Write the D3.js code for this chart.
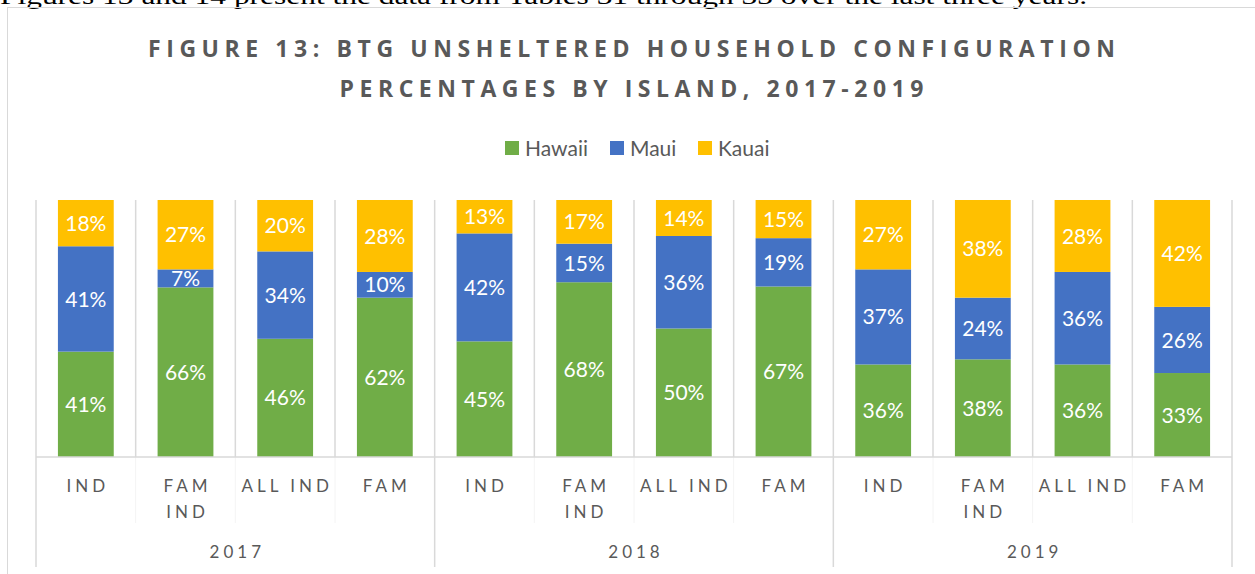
<!DOCTYPE html>
<html>
<head>
<meta charset="utf-8">
<script src="https://cdn.jsdelivr.net/npm/d3@7"></script>
<style>
  html, body { margin: 0; padding: 0; background: #fff; overflow: hidden; }
  svg { display: block; }
</style>
</head>
<body>
<svg id="chart" width="1255" height="574"></svg>
<script>
// categories, two-level axis
var years = ['2017', '2018', '2019'];
var configs = [['IND'], ['FAM', 'IND'], ['ALL IND'], ['FAM']];
var islands = ['Hawaii', 'Maui', 'Kauai'];
var islandColors = ['#70AD47', '#4472C4', '#FFC000'];

// percentages, one value per bar (2017 x4, 2018 x4, 2019 x4)
var hawaii = [41, 66, 46, 62, 45, 68, 50, 67, 36, 38, 36, 33];
var maui   = [41,  7, 34, 10, 42, 15, 36, 19, 37, 24, 36, 26];
var kauai  = [18, 27, 20, 28, 13, 17, 14, 15, 27, 38, 28, 42];

var textColor = '#595959';
var gridColor = '#d9d9d9';

var svg = d3.select('#chart');

// paragraph text cut off at the top of the page
svg.append('text')
  .attr('x', 0)
  .attr('y', 4)
  .attr('textLength', 1087)
  .attr('lengthAdjust', 'spacingAndGlyphs')
  .style('font-family', '"Liberation Serif", "Times New Roman", serif')
  .style('font-size', '24px')
  .style('fill', '#000')
  .text('Figures 13 and 14 present the data from Tables 31 through 33 over the last three years.');

// chart area border
svg.append('rect')
  .attr('x', 7.5)
  .attr('y', 7.5)
  .attr('width', 1300)
  .attr('height', 700)
  .attr('fill', 'none')
  .attr('stroke', gridColor)
  .attr('stroke-width', 1);

// title
var titleLines = [
  {text: 'FIGURE 13: BTG UNSHELTERED HOUSEHOLD CONFIGURATION', y: 57, len: 970},
  {text: 'PERCENTAGES BY ISLAND, 2017-2019', y: 97, len: 587}
];
svg.selectAll('.title')
  .data(titleLines)
  .enter().append('text')
  .attr('class', 'title')
  .attr('x', 633)
  .attr('y', function(d) { return d.y; })
  .attr('text-anchor', 'middle')
  .attr('textLength', function(d) { return d.len; })
  .attr('lengthAdjust', 'spacing')
  .style('font-family', '"Open Sans", Lato, sans-serif')
  .style('font-weight', 'bold')
  .style('font-size', '23px')
  .style('letter-spacing', '3px')
  .style('fill', textColor)
  .text(function(d) { return d.text; });

// legend
var legendX = [505, 610, 698];
var legend = svg.selectAll('.legend')
  .data(islands)
  .enter().append('g')
  .attr('class', 'legend')
  .attr('transform', function(d, i) { return 'translate(' + legendX[i] + ',141)'; });

legend.append('rect')
  .attr('width', 14)
  .attr('height', 14)
  .attr('fill', function(d, i) { return islandColors[i]; });

legend.append('text')
  .attr('x', 20)
  .attr('y', 14.5)
  .style('font-family', 'Lato, "Open Sans", sans-serif')
  .style('font-size', '21px')
  .style('fill', textColor)
  .text(function(d) { return d; });

// scales
var plotLeft = 36, plotRight = 1232, plotTop = 200, plotBottom = 457;

var rows = [];
years.forEach(function(yr, yi) {
  configs.forEach(function(c, ci) {
    var i = yi * configs.length + ci;
    rows.push({key: yr + '-' + ci, year: yr, label: c, Hawaii: hawaii[i], Maui: maui[i], Kauai: kauai[i]});
  });
});

var x = d3.scaleBand()
  .domain(rows.map(function(d) { return d.key; }))
  .range([plotLeft, plotRight])
  .padding(0);

var xYear = d3.scaleBand()
  .domain(years)
  .range([plotLeft, plotRight])
  .padding(0);

var y = d3.scaleLinear()
  .domain([0, 1])
  .range([plotBottom, plotTop]);

var barWidth = x.bandwidth() * 0.56;

// vertical gridlines between categories
var boundaries = rows.map(function(d) { return x(d.key); }).concat([plotRight]);
svg.append('g')
  .selectAll('line')
  .data(boundaries)
  .enter().append('line')
  .attr('x1', function(d) { return d; })
  .attr('x2', function(d) { return d; })
  .attr('y1', plotTop)
  .attr('y2', plotBottom)
  .attr('stroke', gridColor)
  .attr('stroke-width', 1.5);

// minor tick separators under the axis
svg.append('g')
  .selectAll('line')
  .data(boundaries.filter(function(d, i) { return i % configs.length !== 0; }))
  .enter().append('line')
  .attr('x1', function(d) { return d; })
  .attr('x2', function(d) { return d; })
  .attr('y1', plotBottom)
  .attr('y2', 523)
  .attr('stroke', '#f4f4f4')
  .attr('stroke-width', 1);

// year separators under the axis
var yearBounds = years.map(function(d) { return xYear(d); }).concat([plotRight]);
svg.append('g')
  .selectAll('line')
  .data(yearBounds)
  .enter().append('line')
  .attr('x1', function(d) { return d; })
  .attr('x2', function(d) { return d; })
  .attr('y1', plotBottom)
  .attr('y2', 567)
  .attr('stroke', gridColor)
  .attr('stroke-width', 1.5);

// stacked bars, normalised to 100%
var stack = d3.stack()
  .keys(islands)
  .offset(d3.stackOffsetExpand);
var series = stack(rows);

var layers = svg.append('g')
  .selectAll('g')
  .data(series)
  .enter().append('g')
  .attr('fill', function(d, i) { return islandColors[i]; });

layers.selectAll('rect')
  .data(function(d) { return d; })
  .enter().append('rect')
  .attr('x', function(d) { return x(d.data.key) + (x.bandwidth() - barWidth) / 2; })
  .attr('width', barWidth)
  .attr('y', function(d) { return y(d[1]); })
  .attr('height', function(d) { return y(d[0]) - y(d[1]); });

// data labels
svg.append('g')
  .selectAll('g')
  .data(series)
  .enter().append('g')
  .selectAll('text')
  .data(function(s) { return s.map(function(d) { return {d: d, key: s.key}; }); })
  .enter().append('text')
  .attr('x', function(o) { return x(o.d.data.key) + x.bandwidth() / 2; })
  .attr('y', function(o) { return (y(o.d[0]) + y(o.d[1])) / 2; })
  .attr('dy', '0.36em')
  .attr('text-anchor', 'middle')
  .style('font-family', 'Lato, "Open Sans", sans-serif')
  .style('font-size', '21px')
  .style('fill', '#fff')
  .text(function(o) { return o.d.data[o.key] + '%'; });

// axis line
svg.append('line')
  .attr('x1', plotLeft)
  .attr('x2', plotRight)
  .attr('y1', plotBottom)
  .attr('y2', plotBottom)
  .attr('stroke', gridColor)
  .attr('stroke-width', 1.5);

// category labels
var catLabels = svg.append('g')
  .selectAll('text')
  .data(rows)
  .enter().append('text')
  .attr('x', function(d) { return x(d.key) + x.bandwidth() / 2 + 2; })
  .attr('y', 492)
  .attr('text-anchor', 'middle')
  .style('font-family', 'Lato, "Open Sans", sans-serif')
  .style('font-size', '17px')
  .style('letter-spacing', '4px')
  .style('fill', textColor);

catLabels.selectAll('tspan')
  .data(function(d) { return d.label; })
  .enter().append('tspan')
  .attr('x', function() { var p = d3.select(this.parentNode).datum(); return x(p.key) + x.bandwidth() / 2 + 2; })
  .attr('dy', function(d, i) { return i === 0 ? 0 : 26; })
  .text(function(d) { return d; });

// year labels
svg.append('g')
  .selectAll('text')
  .data(years)
  .enter().append('text')
  .attr('x', function(d) { return xYear(d) + xYear.bandwidth() / 2 + 2; })
  .attr('y', 558)
  .attr('text-anchor', 'middle')
  .style('font-family', 'Lato, "Open Sans", sans-serif')
  .style('font-size', '17px')
  .style('letter-spacing', '4px')
  .style('fill', textColor)
  .text(function(d) { return d; });
</script>
</body>
</html>
